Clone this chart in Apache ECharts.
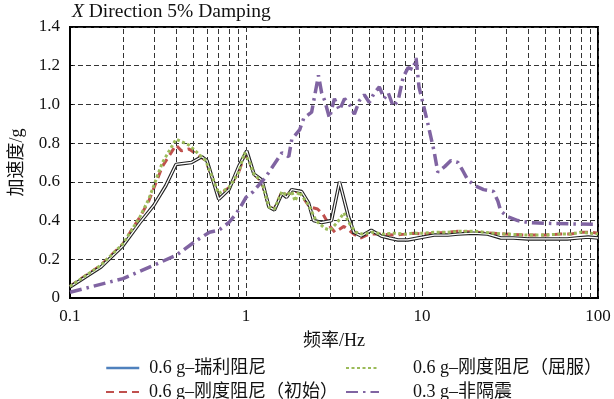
<!DOCTYPE html>
<html>
<head>
<meta charset="utf-8">
<script src="https://cdn.jsdelivr.net/npm/echarts@6/dist/echarts.min.js"></script>
<style>html,body{margin:0;padding:0;background:#fff}#main{width:614px;height:399px}</style>
</head>
<body>
<div id="main"></div>
<script>
// ---------- data ----------
var seriesNames = ['0.6 g–瑞利阻尼', '0.6 g–刚度阻尼（初始）', '0.6 g–刚度阻尼（屈服）', '0.3 g–非隔震'];
var xTickLabels = ['0.1', '1', '10', '100'];
var minorFreqs = [0.2,0.3,0.4,0.5,0.6,0.7,0.8,0.9,2,3,4,5,6,7,8,9,20,30,40,50,60,70,80,90];

var rayleighFreq = [0.1,0.15,0.2,0.25,0.3,0.35,0.4,0.49,0.56,0.6,0.7,0.8,0.91,1.01,1.11,1.23,1.35,1.45,1.6,1.7,1.82,2.07,2.27,2.42,2.69,3.06,3.4,3.82,4.1,4.52,5.15,5.87,6.5,7.3,8.3,9.5,11.7,14,16,19.6,23.6,28,33,40,50,67,76,88,100];
var rayleighAcc  = [0.057,0.16,0.27,0.39,0.48,0.58,0.69,0.70,0.73,0.71,0.51,0.56,0.68,0.76,0.64,0.61,0.47,0.455,0.54,0.52,0.56,0.55,0.49,0.40,0.39,0.40,0.60,0.42,0.34,0.32,0.35,0.32,0.31,0.30,0.30,0.31,0.325,0.325,0.33,0.335,0.33,0.31,0.31,0.305,0.305,0.305,0.31,0.315,0.31];

var initialFreq = [0.1,0.15,0.2,0.25,0.28,0.335,0.4,0.43,0.475,0.59,0.7,0.8,0.91,0.98,1.05,1.11,1.23,1.35,1.45,1.6,1.7,1.82,2.0,2.3,2.55,2.75,3.0,3.2,3.6,4.1,4.5,5.0,5.9,7,8,9,10,12,14,16,20,25,30,40,50,60,70,80,90,100];
var initialAcc  = [0.06,0.17,0.28,0.42,0.50,0.68,0.79,0.76,0.77,0.71,0.53,0.57,0.65,0.74,0.70,0.64,0.60,0.47,0.46,0.55,0.53,0.55,0.55,0.47,0.46,0.43,0.37,0.34,0.37,0.33,0.31,0.33,0.33,0.325,0.33,0.335,0.33,0.335,0.34,0.345,0.34,0.335,0.33,0.325,0.325,0.33,0.33,0.34,0.34,0.335];

var yieldFreq = [0.1,0.15,0.2,0.25,0.28,0.335,0.4,0.475,0.59,0.7,0.8,0.91,0.98,1.05,1.11,1.23,1.35,1.45,1.6,1.7,1.82,1.9,2.0,2.27,2.5,2.8,3.0,3.3,3.6,3.9,4.2,4.6,5.2,6,7,8,9,10,12,14,16,20,25,30,40,50,60,70,80,90,100];
var yieldAcc  = [0.06,0.17,0.28,0.42,0.51,0.70,0.82,0.79,0.71,0.54,0.57,0.65,0.75,0.70,0.64,0.60,0.47,0.46,0.55,0.53,0.55,0.50,0.55,0.48,0.40,0.36,0.35,0.39,0.44,0.38,0.34,0.33,0.34,0.33,0.335,0.33,0.335,0.335,0.34,0.34,0.345,0.345,0.335,0.33,0.325,0.325,0.33,0.33,0.34,0.335,0.33];

var nonIsoFreq = [0.1,0.2,0.3,0.4,0.51,0.62,0.7,0.8,0.87,0.93,1.0,1.1,1.28,1.35,1.6,1.75,1.82,2.02,2.13,2.36,2.58,2.69,2.8,2.98,3.18,3.4,3.63,3.87,4.13,4.41,4.7,5.02,5.36,5.72,6.1,6.43,6.86,7.32,7.81,8.34,8.89,9.25,9.62,10.1,10.8,11.7,12.3,13.5,14.6,16,17,18.2,20,22.4,25.5,27,28,30.6,35,40,55,100];
var nonIsoAcc  = [0.03,0.10,0.17,0.22,0.29,0.34,0.35,0.39,0.43,0.47,0.52,0.55,0.62,0.65,0.75,0.73,0.82,0.87,0.93,0.96,1.15,1.06,1.02,0.93,1.03,0.97,1.03,1.00,0.95,1.02,1.05,1.01,1.06,1.09,1.03,1.06,0.99,1.02,1.14,1.19,1.18,1.24,1.09,1.01,0.90,0.76,0.65,0.68,0.71,0.70,0.66,0.61,0.58,0.56,0.55,0.50,0.45,0.42,0.40,0.39,0.385,0.38];

function zip(xs, ys) { return xs.map(function (x, i) { return [x, ys[i]]; }); }

var FONT = '"Liberation Serif", "Times New Roman", "Noto Sans CJK SC", serif';
var chart = echarts.init(document.getElementById('main'));

function legendBox(name, left, top, textPad, override) {
  var item = { name: name };
  if (override) { item.lineStyle = override; }
  return {
    orient: 'vertical', left: left, top: top, padding: 0,
    itemWidth: 33, itemHeight: 14, itemGap: 0,
    itemStyle: { opacity: 0, color: 'transparent', borderWidth: 0 },
    textStyle: { fontFamily: FONT, fontSize: 18, color: '#111', padding: [0, 0, 0, textPad] },
    data: [item]
  };
}

chart.setOption({
  animation: false,
  backgroundColor: '#fff',
  textStyle: { fontFamily: FONT },
  title: {
    text: '{i|X} Direction 5% Damping',
    left: 72, top: 2, padding: 0,
    textStyle: {
      fontFamily: FONT, fontSize: 19.5, fontWeight: 'normal', color: '#111',
      rich: { i: { fontFamily: FONT, fontStyle: 'italic', fontSize: 19.5, color: '#111' } }
    }
  },
  grid: { left: 67, top: 27, right: 16, bottom: 101, show: true, borderColor: '#000', borderWidth: 2, backgroundColor: '#fff' },
  legend: [
    legendBox(seriesNames[0], 105, 359, 5, { color: '#4f81bd', width: 2.5, type: 'solid' }),
    legendBox(seriesNames[1], 105, 383, 5),
    legendBox(seriesNames[2], 345, 359, 29),
    legendBox(seriesNames[3], 345, 383, 29)
  ],
  xAxis: {
    type: 'log', logBase: 10, min: 0.1, max: 100,
    name: '频率/Hz', nameLocation: 'middle', nameGap: 34,
    nameTextStyle: { fontFamily: FONT, fontSize: 18, color: '#111' },
    axisLine: { lineStyle: { color: '#000', width: 2 } },
    axisTick: { show: false },
    axisLabel: {
      margin: 10, fontFamily: FONT, fontSize: 17, color: '#111',
      formatter: function (v) {
        var idx = Math.round(Math.log(v) / Math.LN10) + 1;
        return xTickLabels[idx] !== undefined ? xTickLabels[idx] : '';
      }
    },
    splitLine: { show: true, lineStyle: { color: '#333', type: [5, 3], width: 1 } }
  },
  yAxis: {
    type: 'value', min: 0, max: 1.4, interval: 0.2,
    name: '加速度/g', nameLocation: 'middle', nameGap: 44,
    nameTextStyle: { fontFamily: FONT, fontSize: 18, color: '#111' },
    axisLine: { show: true, lineStyle: { color: '#000', width: 2 } },
    axisTick: { show: true, inside: true, length: 3, lineStyle: { color: '#000' } },
    axisLabel: {
      margin: 10, fontFamily: FONT, fontSize: 17, color: '#111',
      formatter: function (v) { return v === 0 ? '0' : v.toFixed(1); }
    },
    splitLine: { show: true, lineStyle: { color: '#333', type: [5, 3], width: 1 } }
  },
  series: [
    {
      name: '_minorGrid', type: 'line', data: [], silent: true, z: 1,
      markLine: {
        silent: true, symbol: 'none', label: { show: false }, animation: false,
        lineStyle: { color: '#333', type: [5, 3], width: 1 },
        data: minorFreqs.map(function (f) { return { xAxis: f }; })
      }
    },
    {
      name: seriesNames[1], type: 'line', data: zip(initialFreq, initialAcc), symbol: 'none', z: 3,
      itemStyle: { color: '#c0504d' },
      lineStyle: { color: '#c0504d', width: 3, type: [8, 5] }
    },
    {
      name: seriesNames[0], type: 'line', data: zip(rayleighFreq, rayleighAcc), symbol: 'none', z: 4,
      itemStyle: { color: '#4f81bd' },
      lineStyle: { color: '#222', width: 3.5, type: 'solid' }
    },
    {
      name: '_rayleighCore', type: 'line', data: zip(rayleighFreq, rayleighAcc), symbol: 'none', z: 5, silent: true,
      lineStyle: { color: '#fff', width: 1.3, type: 'solid' }
    },
    {
      name: seriesNames[2], type: 'line', data: zip(yieldFreq, yieldAcc), symbol: 'none', z: 6,
      itemStyle: { color: '#9bbb59' },
      lineStyle: { color: '#9bbb59', width: 3, type: [3, 2.5] }
    },
    {
      name: seriesNames[3], type: 'line', data: zip(nonIsoFreq, nonIsoAcc), symbol: 'none', z: 7,
      itemStyle: { color: '#8064a2' },
      lineStyle: { color: '#8064a2', width: 3.5, type: [12, 5, 2.5, 5] }
    }
  ]
});
</script>
</body>
</html>
